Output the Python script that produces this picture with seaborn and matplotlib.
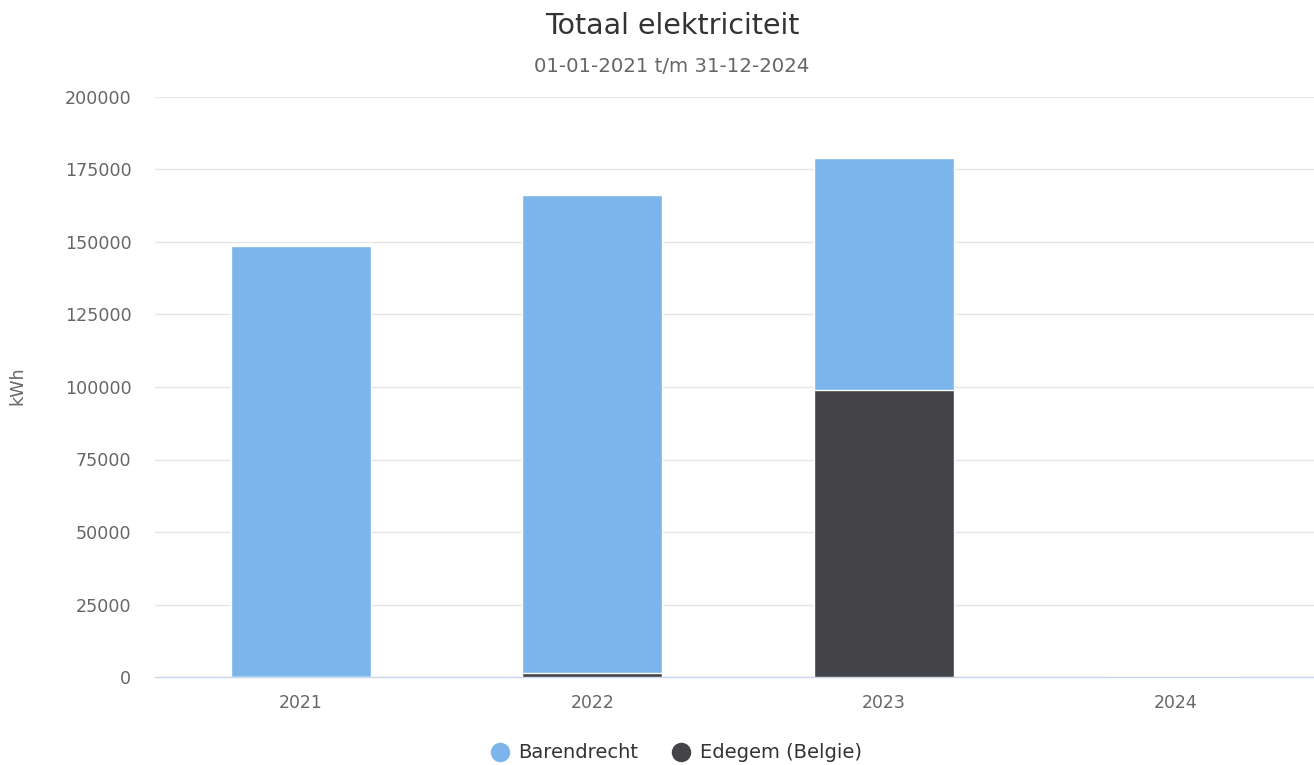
import matplotlib
matplotlib.use("Agg")
import matplotlib.pyplot as plt
import seaborn as sns
import pandas as pd
from matplotlib.lines import Line2D

years = ["2021", "2022", "2023", "2024"]
barendrecht = [148500, 164700, 80000, 0]
edegem = [0, 1500, 98900, 0]
series_names = ["Barendrecht", "Edegem (Belgie)"]
yticks = [0, 25000, 50000, 75000, 100000, 125000, 150000, 175000, 200000]

blue = "#7cb5ec"
dark = "#434348"

sns.set_theme(style="white")
plt.rcParams["font.family"] = ["DejaVu Sans"]

df = pd.DataFrame({"year": years,
                   "total": [b + e for b, e in zip(barendrecht, edegem)],
                   "edegem": edegem})

fig = plt.figure(figsize=(13.14, 7.65), dpi=100)
ax = fig.add_axes([155/1314, 88/765, 1166/1314, 580/765])

sns.barplot(data=df, x="year", y="total", color=blue, saturation=1, width=0.48,
            edgecolor="white", linewidth=1, ax=ax, zorder=3)
sns.barplot(data=df, x="year", y="edegem", color=dark, saturation=1, width=0.48,
            edgecolor="white", linewidth=1, ax=ax, zorder=4)

ax.set_ylim(0, 200000)
ax.set_xlim(-0.5, 3.5)
ax.set_yticks(yticks)
ax.set_yticklabels([str(v) for v in yticks])
ax.yaxis.grid(True, color="#e6e6e6", linewidth=1, zorder=0)
ax.xaxis.grid(False)
for s in ["top", "right", "left"]:
    ax.spines[s].set_visible(False)
ax.spines["bottom"].set_color("#ccd6eb")
ax.spines["bottom"].set_linewidth(1)
ax.tick_params(axis="y", length=0, pad=17, labelsize=12.6, labelcolor="#666666")
ax.tick_params(axis="x", length=0, pad=12, labelsize=12.4, labelcolor="#666666")
ax.set_xlabel("")
ax.set_ylabel("")

fig.text(17/1314, 1 - 386/765, "kWh", rotation=90, ha="center", va="center",
         fontsize=12.6, color="#666666")
fig.text(672/1314, 1 - 26/765, "Totaal elektriciteit", ha="center", va="center",
         fontsize=20.5, color="#333333")
fig.text(672/1314, 1 - 66/765, "01-01-2021 t/m 31-12-2024", ha="center", va="center",
         fontsize=14.2, color="#666666")

handles = [Line2D([0], [0], marker="o", color="none", markerfacecolor=blue,
                  markeredgecolor=blue, markersize=13),
           Line2D([0], [0], marker="o", color="none", markerfacecolor=dark,
                  markeredgecolor=dark, markersize=13)]
leg = fig.legend(handles, series_names, loc="center", bbox_to_anchor=(676/1314, 1 - 753/765),
                 ncol=2, frameon=False, fontsize=14, handletextpad=0.45, columnspacing=1.7,
                 handlelength=1.0)
for t in leg.get_texts():
    t.set_color("#333333")

fig.savefig("out.png", dpi=100)
